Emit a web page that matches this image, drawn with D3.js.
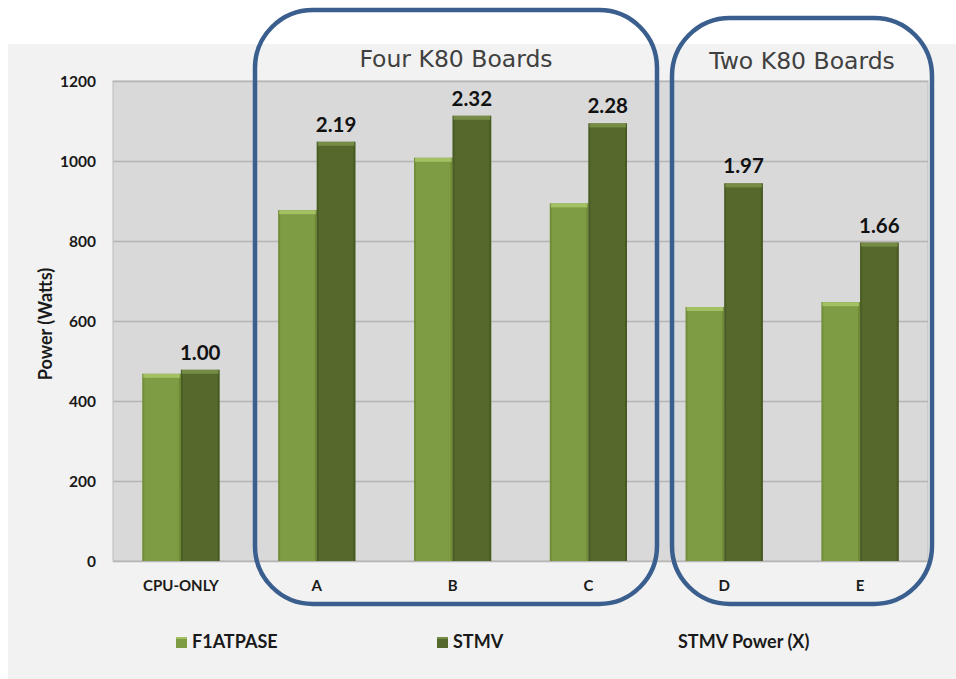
<!DOCTYPE html>
<html><head><meta charset="utf-8">
<script src="https://cdn.jsdelivr.net/npm/d3@7"></script>
<style>body{margin:0;background:#fff}svg{display:block}</style>
</head><body>
<svg id="c" width="956" height="679"></svg>
<script>
const categories = ["CPU-ONLY","A","B","C","D","E"];
const seriesNames = ["F1ATPASE","STMV"];
const f1atpase = [468, 877, 1008, 894, 635, 647];
const stmv = [478, 1048, 1113, 1094, 944, 796];
const stmvPowerX = ["1.00","2.19","2.32","2.28","1.97","1.66"];
const yTicks = [0,200,400,600,800,1000,1200];
const groups = [
  {title:"Four K80 Boards", from:"A", to:"C"},
  {title:"Two K80 Boards", from:"D", to:"E"}
];

const svg = d3.select("#c");
const font = "Lato, 'Open Sans', sans-serif";
const colors = {F1ATPASE:"#7e9c43", STMV:"#56692c"};
const tops = {F1ATPASE:"#a3c063", STMV:"#768c45"};
const edges = {F1ATPASE:"#6a8535", STMV:"#45551f"};

svg.append("rect").attr("x",8).attr("y",44).attr("width",948).attr("height",635).attr("fill","#f2f2f2");

const x = d3.scaleBand().domain(categories).range([113,928]).paddingInner(0).paddingOuter(0);
const xs = d3.scaleBand().domain(seriesNames).range([0,x.bandwidth()]).paddingInner(0).paddingOuter(0.76);
const y = d3.scaleLinear().domain([0,1200]).range([561,81]);

svg.append("rect").attr("x",113).attr("y",81).attr("width",815).attr("height",480)
  .attr("fill","#d9d9d9").attr("stroke","#bcbcbc").attr("stroke-width",1);

const yAxis = d3.axisLeft(y).tickValues(yTicks).tickSize(-815).tickFormat(d3.format("d"));
const ga = svg.append("g").attr("transform","translate(113,0)").call(yAxis);
ga.select(".domain").remove();
ga.selectAll(".tick line").attr("stroke","#b5b5b5").attr("stroke-width",1.3);
ga.selectAll(".tick text").attr("x",-17).attr("dy","0.35em")
  .attr("font-family",font).attr("font-weight","bold").attr("font-size",15.5).attr("fill","#1a1a1a");

const xAxis = d3.axisBottom(x).tickSize(0);
const gx = svg.append("g").attr("transform","translate(0,561)").call(xAxis);
gx.select(".domain").remove();
gx.selectAll(".tick text").attr("y",30).attr("dy","0")
  .attr("font-family",font).attr("font-weight","bold").attr("font-size",15).attr("fill","#1a1a1a");

const data = [];
categories.forEach((c,i)=>{
  data.push({cat:c, s:"F1ATPASE", v:f1atpase[i]});
  data.push({cat:c, s:"STMV", v:stmv[i]});
});
const bw = xs.bandwidth();
const bg = svg.append("g");
data.forEach(d=>{
  const bx = x(d.cat)+xs(d.s), by = y(d.v), bh = y(0)-y(d.v);
  bg.append("rect").attr("x",bx).attr("y",by).attr("width",bw).attr("height",bh).attr("fill",colors[d.s]);
  bg.append("rect").attr("x",bx).attr("y",by).attr("width",2).attr("height",bh).attr("fill",edges[d.s]).attr("opacity",0.6);
  bg.append("rect").attr("x",bx+bw-2).attr("y",by).attr("width",2).attr("height",bh).attr("fill",edges[d.s]).attr("opacity",0.8);
  bg.append("rect").attr("x",bx+1).attr("y",by).attr("width",bw-2).attr("height",4).attr("fill",tops[d.s]);
});

categories.forEach((c,i)=>{
  svg.append("text").attr("x",x(c)+xs("STMV")+bw/2).attr("y",y(stmv[i])-10)
    .attr("text-anchor","middle").attr("font-family",font).attr("font-weight","bold")
    .attr("font-size",20.5).attr("fill","#111").text(stmvPowerX[i]);
});

svg.append("text").attr("transform","translate(52,324) rotate(-90)").attr("text-anchor","middle")
  .attr("font-family",font).attr("font-weight","bold").attr("font-size",18).attr("fill","#1a1a1a").text("Power (Watts)");

const boxes = [
  {g:groups[0], x0:255, y0:10, x1:657, y1:604, tx:456, ty:67},
  {g:groups[1], x0:672, y0:18, x1:932, y1:604, tx:802, ty:69}
];
boxes.forEach(b=>{
  svg.append("rect").attr("x",b.x0).attr("y",b.y0).attr("width",b.x1-b.x0).attr("height",b.y1-b.y0)
    .attr("rx",58).attr("ry",58).attr("fill","none").attr("stroke","#3a5f8e").attr("stroke-width",4.5);
  svg.append("text").attr("x",b.tx).attr("y",b.ty).attr("text-anchor","middle")
    .attr("font-family","'DejaVu Sans', Verdana, sans-serif").attr("font-size",23.5).attr("fill","#404040").text(b.g.title);
});

const legend = [
  {name:seriesNames[0], x:176, swatch:true, color:colors.F1ATPASE, top:tops.F1ATPASE},
  {name:seriesNames[1], x:437, swatch:true, color:colors.STMV, top:tops.STMV},
  {name:"STMV Power (X)", x:678-16, swatch:false}
];
legend.forEach(l=>{
  if(l.swatch){
    svg.append("rect").attr("x",l.x).attr("y",637).attr("width",11).attr("height",11).attr("fill",l.color);
    svg.append("rect").attr("x",l.x).attr("y",637).attr("width",11).attr("height",2).attr("fill",l.top);
  }
  svg.append("text").attr("x",l.x+16).attr("y",648).attr("font-family",font).attr("font-weight","bold")
    .attr("font-size",18).attr("fill","#1a1a1a").text(l.name);
});
</script>
</body></html>
